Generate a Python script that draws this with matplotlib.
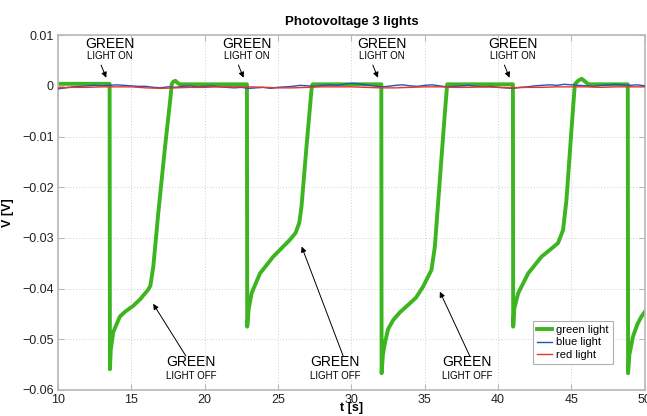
import matplotlib
matplotlib.use("Agg")
import matplotlib.pyplot as plt

plt.rcParams['font.family'] = ['Liberation Sans', 'DejaVu Sans']

# ---------------- data ----------------
green_t = [10.0, 13.52, 13.54, 13.6, 13.77, 14.0, 14.22, 14.6, 15.13, 15.6, 16.15, 16.3, 16.5, 16.84, 17.3, 17.68,
           17.75, 17.85, 18.0, 18.15, 18.3, 22.88,
           22.9, 23.0, 23.2, 23.77, 24.67, 25.8, 26.2, 26.45, 26.6, 26.94, 27.28, 27.35, 32.04,
           32.06, 32.15, 32.28, 32.5, 32.85, 33.3, 33.76, 34.4, 34.89, 35.2, 35.46, 35.69, 36.03, 36.37, 36.53, 41.01,
           41.03, 41.1, 41.37, 42.05, 42.96, 43.6, 44.09, 44.43, 44.66, 45.0, 45.23, 45.45, 45.7, 45.95, 46.15, 48.84,
           48.86, 48.95, 49.2, 49.5, 49.77, 50.1]
green_v = [0.0004, 0.0004, -0.0559, -0.052, -0.0486, -0.047, -0.0455, -0.0445, -0.0434, -0.0421, -0.0402, -0.0394, -0.0356, -0.025, -0.012, -0.002,
           0.0003, 0.0008, 0.0010, 0.0006, 0.0003, 0.0003,
           -0.0475, -0.044, -0.0409, -0.037, -0.0337, -0.0304, -0.029, -0.027, -0.0238, -0.012, -0.0008, 0.0003, 0.0003,
           -0.0567, -0.053, -0.0508, -0.048, -0.0462, -0.0447, -0.0435, -0.0418, -0.0396, -0.0378, -0.0363, -0.0317, -0.0185, -0.0054, 0.0003, 0.0003,
           -0.0475, -0.044, -0.0409, -0.037, -0.0337, -0.0322, -0.031, -0.0284, -0.0225, -0.0087, 0.0003, 0.0010, 0.0014, 0.0008, 0.0003, 0.0003,
           -0.0567, -0.053, -0.0494, -0.047, -0.0455, -0.0442]

blue_t = [10.0, 10.5, 11.0, 11.5, 12.0, 12.5, 13.0, 13.5, 14.0, 14.5, 15.0, 15.5, 16.0, 16.5, 17.0, 17.5,
          18.0, 18.5, 19.0, 19.5, 20.0, 20.5, 21.0, 21.5, 22.0, 22.5, 23.0, 23.5, 24.0, 24.5, 25.0, 25.5,
          26.0, 26.5, 27.0, 27.5, 28.0, 28.5, 29.0, 29.5, 30.0, 30.5, 31.0, 31.5, 32.0, 32.5, 33.0, 33.5,
          34.0, 34.5, 35.0, 35.5, 36.0, 36.5, 37.0, 37.5, 38.0, 38.5, 39.0, 39.5, 40.0, 40.5, 41.0, 41.5,
          42.0, 42.5, 43.0, 43.5, 44.0, 44.5, 45.0, 45.5, 46.0, 46.5, 47.0, 47.5, 48.0, 48.5, 49.0, 49.5, 50.0]
blue_v = [-0.0006, -0.0004, -0.0002, -0.0001, 0.0000, 0.0001, 0.0000, 0.0001, 0.0002, 0.0001, 0.0000, -0.0001,
          -0.0001, -0.0003, -0.0004, -0.0002, -0.0003, -0.0001, 0.0000, -0.0002, -0.0001, 0.0000, -0.0002, -0.0003,
          -0.0004, -0.0003, -0.0005, -0.0004, -0.0003, -0.0005, -0.0003, -0.0002, -0.0001, 0.0001, 0.0000, -0.0001,
          0.0001, 0.0002, 0.0001, 0.0003, 0.0005, 0.0004, 0.0002, 0.0000, -0.0002, -0.0001, 0.0001, 0.0002,
          0.0000, -0.0001, 0.0001, 0.0002, 0.0000, -0.0002, -0.0001, 0.0000, 0.0001, -0.0001, -0.0002, -0.0001,
          -0.0003, -0.0004, -0.0005, -0.0003, -0.0002, 0.0000, 0.0001, 0.0002, 0.0001, 0.0003, 0.0002, 0.0001,
          0.0000, -0.0001, 0.0001, 0.0002, 0.0003, 0.0002, 0.0001, 0.0002, 0.0000]

red_t = [10.0, 11.0, 12.0, 13.0, 14.0, 15.0, 16.0, 17.0, 18.0, 19.0, 20.0, 21.0, 22.0, 23.0, 24.0, 25.0,
         26.0, 27.0, 28.0, 29.0, 30.0, 31.0, 32.0, 33.0, 34.0, 35.0, 36.0, 37.0, 38.0, 39.0, 40.0, 41.0,
         42.0, 43.0, 44.0, 45.0, 46.0, 47.0, 48.0, 49.0, 50.0]
red_v = [-0.0004, -0.0003, -0.0003, -0.0002, -0.0002, -0.0002, -0.0004, -0.0005, -0.0004, -0.0003, -0.0003, -0.0002,
         -0.0002, -0.0002, -0.0003, -0.0004, -0.0004, -0.0003, -0.0002, -0.0002, -0.0002, -0.0003, -0.0004, -0.0004,
         -0.0003, -0.0002, -0.0002, -0.0003, -0.0003, -0.0002, -0.0003, -0.0004, -0.0003, -0.0003, -0.0002, -0.0002,
         -0.0002, -0.0003, -0.0002, -0.0002, -0.0002]

series_labels = ["green light", "blue light", "red light"]
x_ticks = [10, 15, 20, 25, 30, 35, 40, 45, 50]
x_tick_labels = ["10", "15", "20", "25", "30", "35", "40", "45", "50"]
y_ticks = [-0.06, -0.05, -0.04, -0.03, -0.02, -0.01, 0.0, 0.01]
y_tick_labels = ["\u22120.06", "\u22120.05", "\u22120.04", "\u22120.03", "\u22120.02", "\u22120.01", "0", "0.01"]

on_t = [13.54, 22.9, 32.06, 41.03]
off_label_t = [19.06, 28.88, 37.87]
off_tip_t = [16.49, 26.61, 36.03]
off_tip_v = [-0.0430, -0.0317, -0.0406]
off_tail_t = [18.72, 29.44, 38.07]

# ---------------- figure ----------------
fig = plt.figure(figsize=(6.47, 4.16), dpi=100)
ax = fig.add_axes([0.0896, 0.0625, 0.907, 0.853])

ax.plot(green_t, green_v, color="#3cb521", lw=2.8, label=series_labels[0], zorder=2)
ax.plot(blue_t, blue_v, color="#2255b8", lw=1.0, label=series_labels[1], zorder=3)
ax.plot(red_t, red_v, color="#e8352c", lw=1.0, label=series_labels[2], zorder=4)

ax.set_xlim(10, 50)
ax.set_ylim(-0.06, 0.01)
ax.set_xticks(x_ticks)
ax.set_xticklabels(x_tick_labels)
ax.set_yticks(y_ticks)
ax.set_yticklabels(y_tick_labels)

ax.grid(True, linestyle=(0, (1, 2)), color="#d0d0d0", lw=0.7)
for s in ax.spines.values():
    s.set_color("#b8b8b8")
    s.set_linewidth(1.2)
ax.tick_params(direction="in", top=True, right=True, length=4, color="#b8b8b8",
               labelsize=9, labelcolor="#222222", pad=3)

ax.set_title("Photovoltage 3 lights", fontsize=9.5, fontweight="bold", pad=7)
ax.set_xlabel("t [s]", fontsize=9, fontweight="bold", labelpad=-3)
ax.set_ylabel("V [V]", fontsize=9, fontweight="bold", labelpad=6)

narrow = ['Liberation Sans Narrow', 'Liberation Sans', 'DejaVu Sans']
for t in on_t:
    ax.text(t, 0.0083, "GREEN", ha="center", va="center", fontsize=10, family=narrow)
    ax.text(t, 0.0059, "LIGHT ON", ha="center", va="center", fontsize=7, family=narrow)
    ax.annotate("", xy=(t - 0.25, 0.0016), xytext=(t - 0.6, 0.0041),
                arrowprops=dict(arrowstyle="-|>", color="black", lw=0.7,
                                mutation_scale=8, shrinkA=0, shrinkB=0))

for lt, tt, tv, at in zip(off_label_t, off_tip_t, off_tip_v, off_tail_t):
    ax.text(lt, -0.0545, "GREEN", ha="center", va="center", fontsize=10, family=narrow)
    ax.text(lt, -0.0572, "LIGHT OFF", ha="center", va="center", fontsize=7, family=narrow)
    ax.annotate("", xy=(tt, tv), xytext=(at, -0.0533),
                arrowprops=dict(arrowstyle="-|>", color="black", lw=0.7,
                                mutation_scale=8, shrinkA=0, shrinkB=0))

leg = ax.legend(loc="lower right", bbox_to_anchor=(0.945, 0.073), borderaxespad=0,
                fontsize=8, handlelength=1.3, handletextpad=0.4, labelspacing=0.25,
                borderpad=0.35, fancybox=False, framealpha=1, edgecolor="#b0b0b0")
leg.get_frame().set_linewidth(0.8)

fig.savefig("out.png", dpi=100)
